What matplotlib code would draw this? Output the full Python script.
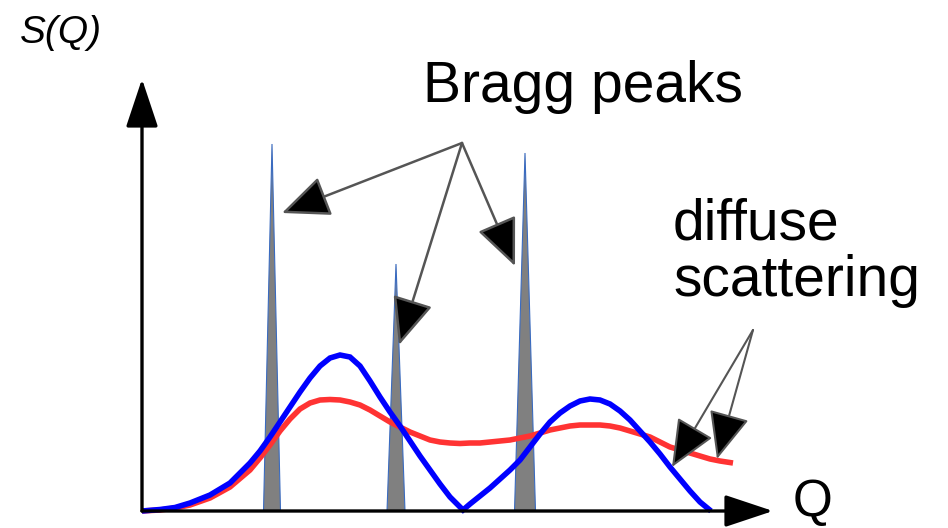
"""Schematic: Bragg peaks vs diffuse scattering in S(Q)."""

import matplotlib.pyplot as plt
from matplotlib.patches import FancyArrowPatch

plt.rcParams["font.family"] = ["Liberation Sans", "DejaVu Sans"]

# Bragg peaks: centre Q, height S, half base width
PEAK_Q = [130, 254, 383]
PEAK_S = [367, 247, 358]
PEAK_HALF = [8.5, 9, 10.5]

# blue diffuse curve
BLUE_Q = [0, 18, 33, 48, 68, 88, 108, 118, 128, 138,
          148, 158, 168, 178, 188, 198, 208, 218, 228, 238,
          248, 258, 268, 278, 288, 298, 308, 321, 328, 338,
          348, 358, 368, 378, 388, 398, 408, 418, 428, 438,
          448, 458, 468, 478, 488, 498, 508, 518, 528, 538,
          548, 558, 569]
BLUE_S = [0, 1.5, 3.5, 8, 16, 28, 48, 60, 74, 89,
          104, 119, 133, 145, 153, 156, 154, 145, 130, 114,
          99, 85, 70, 55, 41, 27, 14, 1, 7, 15,
          23, 32, 41, 51, 64, 77, 89, 98, 105, 110,
          112, 111, 107, 100, 91, 80, 69, 57, 44, 32,
          20, 9, 0]

# red diffuse curve
RED_Q = [0, 18, 33, 48, 68, 88, 108, 118, 128, 138,
         148, 158, 168, 178, 188, 198, 208, 218, 228, 238,
         248, 258, 268, 278, 288, 298, 308, 318, 328, 338,
         348, 358, 368, 378, 388, 398, 408, 418, 428, 438,
         448, 458, 468, 478, 488, 498, 508, 518, 528, 538,
         548, 558, 568, 578, 591]
RED_S = [0, 1, 3, 6, 13, 24, 41, 53, 66, 80,
         92, 102, 108, 111, 111.5, 111, 109, 106, 101, 95,
         89, 84, 79, 75, 71, 69, 68, 67.5, 68, 68,
         69, 70, 71, 73, 75, 78, 81, 83, 85, 86,
         86, 86, 85, 83, 80, 77, 74, 69, 64, 61,
         58, 55, 52, 50, 48]

# annotation arrows: (start Q, start S) -> (end Q, end S)
BRAGG_FROM = (320, 368)
BRAGG_TO = [(140, 298), (257, 166), (373, 245)]
DIFFUSE_FROM = (611, 181)
DIFFUSE_TO = [(530, 44), (575, 52)]


def arrow(ax, start, end, lw, head_len, head_w, edge, z=5):
    p = FancyArrowPatch(
        start, end,
        arrowstyle=f"-|>,head_length={head_len},head_width={head_w}",
        mutation_scale=10, lw=lw, facecolor="black", edgecolor=edge,
        shrinkA=0, shrinkB=0, zorder=z,
    )
    ax.add_patch(p)


def main() -> None:
    fig = plt.figure(figsize=(9.48, 5.28), dpi=100)
    ax = fig.add_axes([0, 0, 1, 1])
    ax.set_xlim(-142, 806)
    ax.set_ylim(-17, 511)
    ax.axis("off")

    # peaks
    for q, s, h in zip(PEAK_Q, PEAK_S, PEAK_HALF):
        ax.fill([q - h, q, q + h], [0, s, 0], facecolor="#808080",
                edgecolor="#3a6bc0", lw=0.8, zorder=2)

    ax.plot(RED_Q, RED_S, color="#ff3333", lw=4, zorder=3,
            solid_capstyle="butt", solid_joinstyle="round")
    ax.plot(BLUE_Q, BLUE_S, color="#0000ff", lw=4, zorder=4,
            solid_capstyle="butt", solid_joinstyle="miter")

    # axes with arrows
    arrow(ax, (0, 0), (0, 432), 2.4, 3.0, 1.0, "black", z=6)
    arrow(ax, (0, 0), (631, 0), 2.4, 3.0, 1.0, "black", z=6)

    for end in BRAGG_TO:
        arrow(ax, BRAGG_FROM, end, 1.8, 3.0, 1.3, "#555555")
    for end in DIFFUSE_TO:
        arrow(ax, DIFFUSE_FROM, end, 1.5, 3.0, 1.3, "#555555")

    ax.text(-122, 468, "S(Q)", fontsize=28, style="italic",
            ha="left", va="baseline")
    ax.text(281, 409, "Bragg peaks", fontsize=41, ha="left", va="baseline")
    ax.text(531, 215, "diffuse\nscattering", fontsize=41, ha="left",
            va="baseline", linespacing=1.05)
    ax.text(651, -5, "Q", fontsize=37, ha="left", va="baseline")

    fig.savefig("out.png", dpi=100)


if __name__ == "__main__":
    main()
